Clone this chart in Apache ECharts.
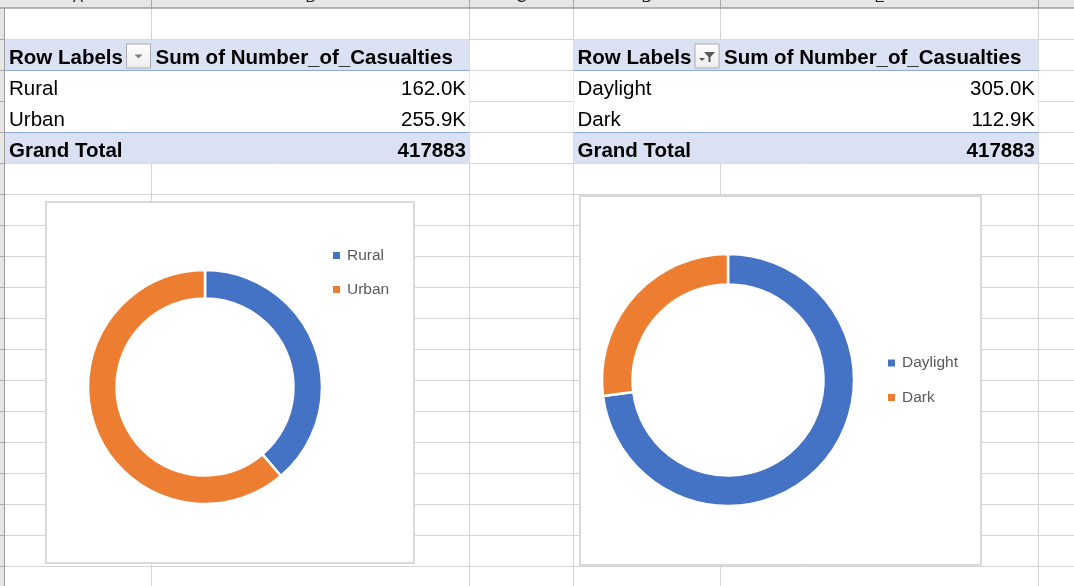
<!DOCTYPE html>
<html><head><meta charset="utf-8">
<script src="https://cdn.jsdelivr.net/npm/echarts@6/dist/echarts.min.js"></script>
<style>html,body{margin:0;padding:0;background:#fff;overflow:hidden}#c{width:1074px;height:586px}</style>
</head><body><div id="c"></div>
<script>
// ---- data ----
const areaCategories = ['Rural', 'Urban'];
const areaValues = [162.0, 255.9];          // thousands
const lightCategories = ['Daylight', 'Dark'];
const lightValues = [305.0, 112.9];         // thousands
const grandTotal = 417883;
const rowLabelHeader = 'Row Labels';
const valueHeader = 'Sum of Number_of_Casualties';
const totalLabel = 'Grand Total';
const columnLetters = ['A', 'B', 'C', 'D', 'E'];

// ---- layout / styling ----
const W = 1074, H = 586;
const colX = [4.5, 151.5, 469.5, 573.5, 720.5, 1038.5];
const rowH = 31, row0 = 8.5;
const FONT = '"Liberation Sans", Arial, sans-serif';
const gridColor = '#D4D4D4';
const g = [];

// sheet grid lines
for (let y = row0 + rowH; y < H; y += rowH) {
  g.push({type: 'line', z: 1, shape: {x1: 5, y1: y, x2: W, y2: y}, style: {stroke: gridColor, lineWidth: 1}});
}
colX.slice(1).forEach(x => g.push({type: 'line', z: 1, shape: {x1: x, y1: 8, x2: x, y2: H}, style: {stroke: gridColor, lineWidth: 1}}));

// column header band
g.push({type: 'rect', z: 2, shape: {x: 0, y: 0, width: W, height: 8}, style: {fill: '#E6E6E6'}});
colX.slice(1).forEach(x => g.push({type: 'line', z: 3, shape: {x1: x, y1: 0, x2: x, y2: 8}, style: {stroke: '#ABABAB', lineWidth: 1}}));
g.push({type: 'line', z: 3, shape: {x1: 0, y1: 8, x2: W, y2: 8}, style: {stroke: '#9E9E9E', lineWidth: 1.5}});
columnLetters.forEach((L, i) => {
  g.push({type: 'text', z: 3, style: {text: L, x: (colX[i] + colX[i + 1]) / 2, y: 5, align: 'center', verticalAlign: 'bottom',
    font: '15px ' + FONT, fill: '#222222'}});
});
// row header strip
g.push({type: 'rect', z: 2, shape: {x: 0, y: 8, width: 4, height: H}, style: {fill: '#E6E6E6'}});
g.push({type: 'line', z: 3, shape: {x1: 4.5, y1: 8, x2: 4.5, y2: H}, style: {stroke: '#9E9E9E', lineWidth: 1}});
for (let y = row0 + rowH; y < H; y += rowH) {
  g.push({type: 'line', z: 3, shape: {x1: 0, y1: y, x2: 4, y2: y}, style: {stroke: '#ABABAB', lineWidth: 1}});
}

// pivot tables
function makeTable(x0, x1, valueLeft, labels, values, filterIcon) {
  const top = row0 + rowH;
  const fillBlue = '#D9E1F2', lineBlue = '#8EA9DB';
  g.push({type: 'rect', z: 4, shape: {x: x0, y: top, width: x1 - x0, height: rowH}, style: {fill: fillBlue}});
  g.push({type: 'rect', z: 4, shape: {x: x0, y: top + rowH, width: x1 - x0, height: rowH * 2}, style: {fill: '#FFFFFF'}});
  g.push({type: 'rect', z: 4, shape: {x: x0, y: top + rowH * 3, width: x1 - x0, height: rowH}, style: {fill: fillBlue}});
  g.push({type: 'line', z: 5, shape: {x1: x0, y1: top + rowH, x2: x1, y2: top + rowH}, style: {stroke: lineBlue, lineWidth: 1}});
  g.push({type: 'line', z: 5, shape: {x1: x0, y1: top + rowH * 3, x2: x1, y2: top + rowH * 3}, style: {stroke: lineBlue, lineWidth: 1}});
  const tx = x0 + 4, rx = x1 - 3.5;
  const cy = r => top + rowH * r + 18.5;
  const txt = (s, x, y, align, bold) => g.push({type: 'text', z: 6, style: {text: s, x: x, y: y, align: align, verticalAlign: 'middle',
    font: (bold ? 'bold ' : '') + '20.5px ' + FONT, fill: '#000000'}});
  txt(rowLabelHeader, tx, cy(0), 'left', true);
  txt(valueHeader, valueLeft, cy(0), 'left', true);
  labels.forEach((l, i) => { txt(l, tx, cy(i + 1), 'left', false); txt(values[i].toFixed(1) + 'K', rx, cy(i + 1), 'right', false); });
  txt(totalLabel, tx, cy(3), 'left', true);
  txt(String(grandTotal), rx, cy(3), 'right', true);
  // dropdown button
  const bx = valueLeft - 29, by = top + 4.5, bw = 24, bh = 24;
  g.push({type: 'rect', z: 6, shape: {x: bx, y: by, width: bw, height: bh},
    style: {fill: new echarts.graphic.LinearGradient(0, 0, 0, 1, [{offset: 0, color: '#FFFFFF'}, {offset: 1, color: '#EDEDED'}]), stroke: '#ABABAB', lineWidth: 1}});
  const mx = bx + bw / 2, my = by + bh / 2;
  if (!filterIcon) {
    g.push({type: 'polygon', z: 7, shape: {points: [[mx - 4, my - 1.5], [mx + 4, my - 1.5], [mx, my + 2.5]]}, style: {fill: '#7F7F7F'}});
  } else {
    g.push({type: 'polygon', z: 7, shape: {points: [[mx - 3, my - 4], [mx + 8, my - 4], [mx + 3.5, my + 1], [mx + 3.5, my + 6], [mx + 1.5, my + 6], [mx + 1.5, my + 1]]}, style: {fill: '#595959'}});
    g.push({type: 'polygon', z: 7, shape: {points: [[mx - 8, my + 2], [mx - 2, my + 2], [mx - 5, my + 5]]}, style: {fill: '#595959'}});
  }
}
makeTable(5, 469.5, 155.5, areaCategories, areaValues, false);
makeTable(573.5, 1038.5, 724, lightCategories, lightValues, true);

// chart boxes
g.push({type: 'rect', z: 8, shape: {x: 46, y: 202, width: 368, height: 361}, style: {fill: '#FFFFFF', stroke: '#D9D9D9', lineWidth: 2}});
g.push({type: 'rect', z: 8, shape: {x: 580, y: 196, width: 401, height: 369}, style: {fill: '#FFFFFF', stroke: '#D9D9D9', lineWidth: 2}});

const chart = echarts.init(document.getElementById('c'), null, {renderer: 'canvas'});
const pieBase = {
  type: 'pie', z: 20, startAngle: 90, clockwise: true, silent: true,
  label: {show: false}, labelLine: {show: false}, emphasis: {disabled: true},
  itemStyle: {borderColor: '#FFFFFF', borderWidth: 2.5}
};
const legendBase = {
  orient: 'vertical', icon: 'rect', itemWidth: 7, itemHeight: 7, z: 20,
  itemStyle: {borderWidth: 0}, selectedMode: false, padding: 0,
  textStyle: {fontSize: 15.5, color: '#595959', fontFamily: FONT, lineHeight: 16, padding: [0, 0, 0, 2]}
};
chart.setOption({
  animation: false,
  color: ['#4472C4', '#ED7D31'],
  graphic: {elements: g},
  legend: [
    Object.assign({}, legendBase, {data: areaCategories, left: 333, top: 247.5, itemGap: 18}),
    Object.assign({}, legendBase, {data: lightCategories, left: 888, top: 355, itemGap: 18.5})
  ],
  series: [
    Object.assign({}, pieBase, {name: 'Area', center: [205, 387], radius: [88.5, 117],
      data: areaCategories.map((n, i) => ({name: n, value: areaValues[i]}))}),
    Object.assign({}, pieBase, {name: 'Light', center: [728, 380], radius: [95.5, 126],
      data: lightCategories.map((n, i) => ({name: n, value: lightValues[i]}))})
  ]
});
</script></body></html>
